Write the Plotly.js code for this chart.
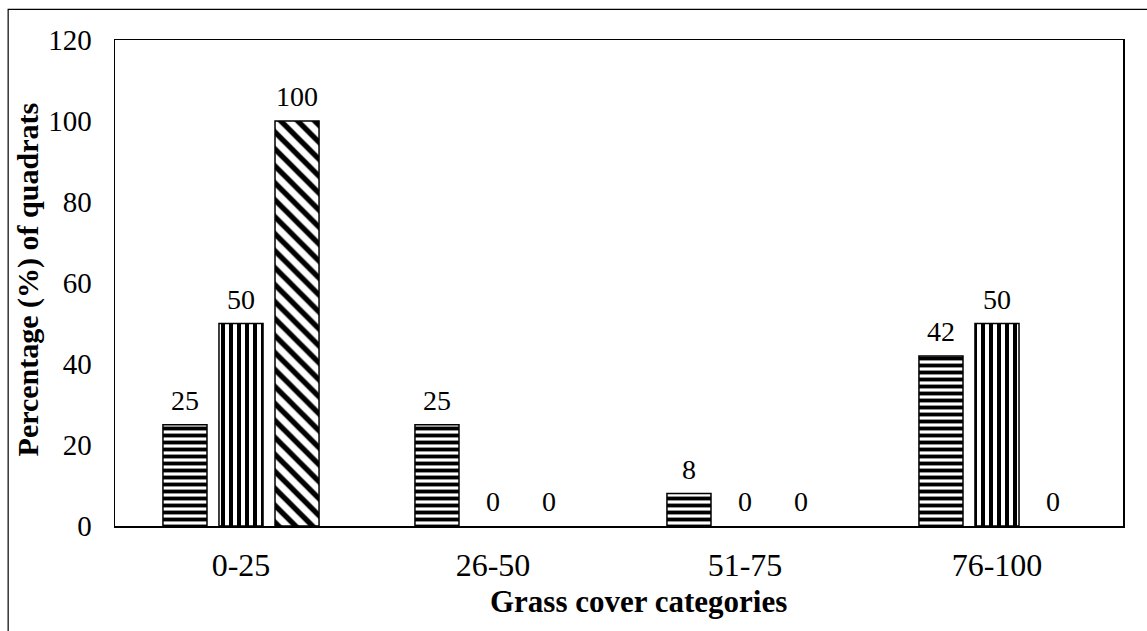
<!DOCTYPE html>
<html>
<head>
<meta charset="utf-8">
<script src="https://cdn.plot.ly/plotly-3.0.1.min.js"></script>
<style>
  html, body { margin: 0; padding: 0; background: #fff; }
  #chart { width: 1147px; height: 631px; }
</style>
</head>
<body>
<div id="chart"></div>
<script>
// Grass cover classes on the x axis
const categories = ['0-25', '26-50', '51-75', '76-100'];

// Percentage of quadrats in each class, one array per series
const seriesHorizontal = [25, 25, 8, 42];
const seriesVertical = [50, 0, 0, 50];
const seriesDiagonal = [100, 0, 0, 0];

const yTicks = [0, 20, 40, 60, 80, 100, 120];

const serif = 'Liberation Serif, Times New Roman, serif';
const BARGAP = 0.333;
const BARGROUPGAP = 0.214;

const seriesList = [
  { values: seriesHorizontal, pattern: { shape: '-', size: 7, solidity: 0.55 } },
  { values: seriesVertical, pattern: { shape: '|', size: 8, solidity: 0.5 } },
  { values: seriesDiagonal, pattern: { shape: '\\', size: 12, solidity: 0.45 } }
];

const traces = seriesList.map(s => ({
  type: 'bar',
  x: categories,
  y: s.values,
  marker: {
    color: '#ffffff',
    // empty bars get no outline
    line: { color: '#000000', width: s.values.map(v => (v === 0 ? 0 : 1.5)) },
    pattern: Object.assign({ fgcolor: '#000000', bgcolor: '#ffffff', fillmode: 'replace' }, s.pattern)
  },
  hoverinfo: 'x+y',
  showlegend: false
}));

// Value labels above each bar, placed at the bar's slot within its group
const slot = (1 - BARGAP) / seriesList.length;
const annotations = [];
seriesList.forEach((s, si) => {
  const offset = (si - (seriesList.length - 1) / 2) * slot;
  s.values.forEach((v, ci) => {
    annotations.push({
      x: ci + offset, y: v, xref: 'x', yref: 'y',
      text: String(v), showarrow: false,
      yanchor: 'bottom', yshift: 7,
      font: { family: serif, size: 28, color: '#000' }
    });
  });
});

// Axis titles
annotations.push({
  xref: 'paper', yref: 'paper', x: 0.519, y: -0.156,
  text: '<b>Grass cover categories</b>', showarrow: false,
  xanchor: 'center', yanchor: 'middle',
  font: { family: serif, size: 31, color: '#000' }
});
annotations.push({
  xref: 'paper', yref: 'paper', x: -0.086, y: 0.508,
  text: '<b>Percentage (%) of quadrats</b>', showarrow: false,
  textangle: -90, xanchor: 'center', yanchor: 'middle',
  font: { family: serif, size: 30, color: '#000' }
});

const layout = {
  width: 1147,
  height: 631,
  margin: { l: 115, r: 24, t: 40, b: 105 },
  paper_bgcolor: '#ffffff',
  plot_bgcolor: '#ffffff',
  barmode: 'group',
  bargap: BARGAP,
  bargroupgap: BARGROUPGAP,
  font: { family: serif, color: '#000' },
  xaxis: {
    type: 'category',
    showline: true, mirror: true, linecolor: '#000', linewidth: 1.5,
    showgrid: false, zeroline: false, ticks: '',
    ticklabelstandoff: 10,
    tickfont: { family: serif, size: 32, color: '#000' }
  },
  yaxis: {
    range: [0, 120],
    tickvals: yTicks,
    ticktext: yTicks.map(String),
    showline: true, mirror: true, linecolor: '#000', linewidth: 1.5,
    showgrid: false, zeroline: false, ticks: '',
    ticklabelstandoff: 16,
    tickfont: { family: serif, size: 29, color: '#000' }
  },
  annotations: annotations,
  shapes: [{
    type: 'rect', xref: 'paper', yref: 'paper',
    x0: -0.106, x1: 1.2, y0: -0.6, y1: 1.063,
    line: { color: '#000', width: 1.2 },
    fillcolor: 'rgba(0,0,0,0)', layer: 'below'
  }]
};

Plotly.newPlot('chart', traces, layout, { displayModeBar: false, staticPlot: true });
</script>
</body>
</html>
